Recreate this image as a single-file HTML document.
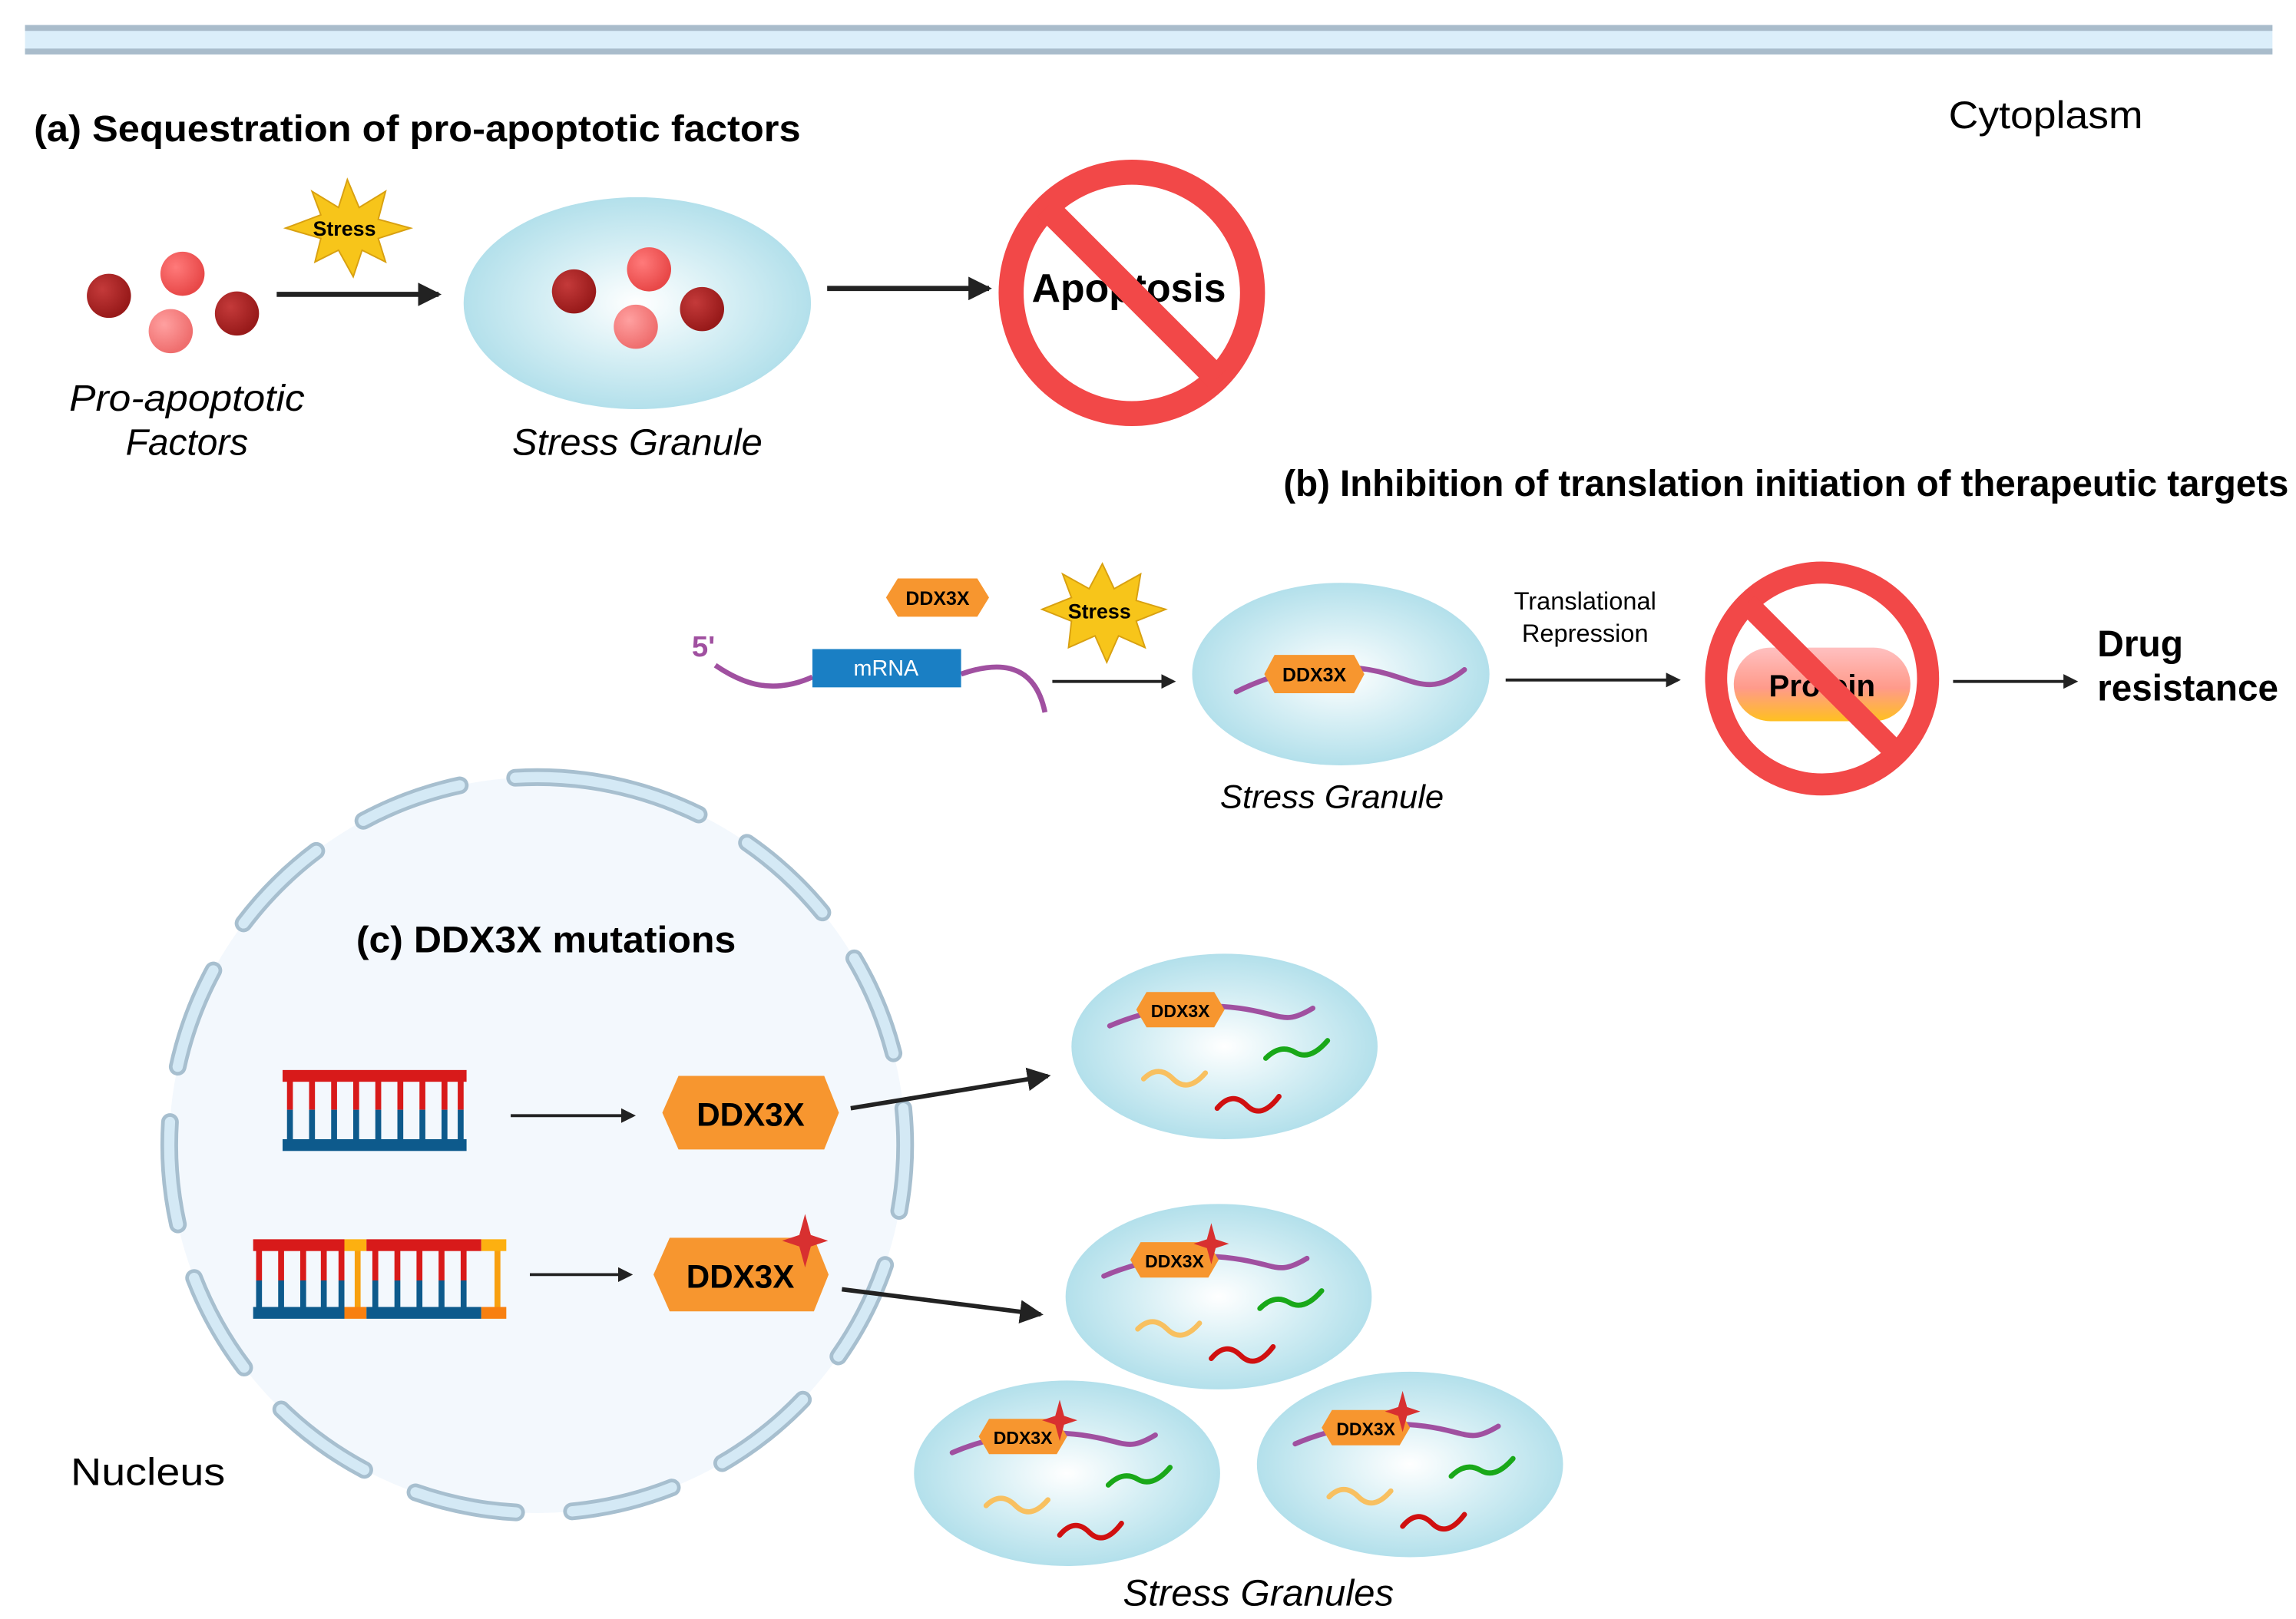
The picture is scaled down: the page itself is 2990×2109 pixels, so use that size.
<!DOCTYPE html>
<html><head><meta charset="utf-8">
<style>
html,body{margin:0;padding:0;background:#fff;}
svg{display:block;}
text{font-family:"Liberation Sans",sans-serif;}
</style></head>
<body>
<svg width="2990" height="2109" viewBox="0 0 1560 1100" preserveAspectRatio="none" xmlns="http://www.w3.org/2000/svg">
<defs>
<radialGradient id="sg" cx="50%" cy="50%" r="50%">
<stop offset="0" stop-color="#ffffff"/><stop offset="0.55" stop-color="#d4eef4"/><stop offset="1" stop-color="#b3e0eb"/>
</radialGradient>
<radialGradient id="dr" cx="35%" cy="35%" r="65%"><stop offset="0" stop-color="#c43a3a"/><stop offset="1" stop-color="#981a1a"/></radialGradient>
<radialGradient id="pr" cx="35%" cy="35%" r="65%"><stop offset="0" stop-color="#ff7a7a"/><stop offset="1" stop-color="#e84848"/></radialGradient>
<radialGradient id="lr" cx="35%" cy="35%" r="65%"><stop offset="0" stop-color="#ffa0a0"/><stop offset="1" stop-color="#ef6e6e"/></radialGradient>
<linearGradient id="pg" x1="0" y1="0" x2="0" y2="1"><stop offset="0" stop-color="#ffc0c0"/><stop offset="0.55" stop-color="#ff9a8a"/><stop offset="1" stop-color="#ffc020"/></linearGradient>
<marker id="ah" markerWidth="10" markerHeight="10" refX="8" refY="5" orient="auto" markerUnits="userSpaceOnUse" viewBox="0 0 10 10"><path d="M0,0 L10,5 L0,10 z" fill="#222"/></marker>
<marker id="ahb" markerWidth="16" markerHeight="16" refX="14" refY="8" orient="auto" markerUnits="userSpaceOnUse" viewBox="0 0 16 16"><path d="M0,0 L16,8 L0,16 z" fill="#222"/></marker>
<g id="gran">
<ellipse cx="0" cy="0" rx="104" ry="63" fill="url(#sg)"/>
<path d="M-78,-14 C-50,-26 -20,-30 10,-26 S40,-14 60,-26" fill="none" stroke="#a050a0" stroke-width="3.5" stroke-linecap="round"/>
<path d="M28,8 q10,-10 20,-4 t22,-8" fill="none" stroke="#19a819" stroke-width="3.5" stroke-linecap="round"/>
<path d="M-55,22 q10,-10 20,0 t22,-4" fill="none" stroke="#f8c060" stroke-width="3.5" stroke-linecap="round"/>
<path d="M-5,42 q10,-12 20,-2 t22,-6" fill="none" stroke="#d01010" stroke-width="3.5" stroke-linecap="round"/>
<polygon points="-60,-25 -53,-37 -7,-37 0,-25 -7,-13 -53,-13" fill="#f7962f"/>
</g>
<path id="spark" d="M0,-14 L3,-3 L12,0 L3,3 L0,14 L-3,3 L-12,0 L-3,-3 z" fill="#d83030"/>
</defs>

<rect x="17" y="17" width="1527" height="20" fill="#dbeefa"/>
<rect x="17" y="17" width="1527" height="4" fill="#a9bccb"/>
<rect x="17" y="33" width="1527" height="4" fill="#a9bccb"/>

<text x="23" y="96" font-size="25" font-weight="bold" textLength="521" lengthAdjust="spacingAndGlyphs">(a) Sequestration of pro-apoptotic factors</text>
<text x="1324" y="87" font-size="26" textLength="132" lengthAdjust="spacingAndGlyphs">Cytoplasm</text>

<circle cx="74" cy="201" r="15" fill="url(#dr)"/>
<circle cx="161" cy="213" r="15" fill="url(#dr)"/>
<circle cx="124" cy="186" r="15" fill="url(#pr)"/>
<circle cx="116" cy="225" r="15" fill="url(#lr)"/>
<polygon points="236,122 244,141 262,130 257,149 279,155 257,162 262,178 246,170 240,188 230,170 214,178 218,162 194,155 218,146 212,130 230,141" fill="#f7c51a" stroke="#d8a010" stroke-width="1"/>
<text x="234" y="160" font-size="14" font-weight="bold" text-anchor="middle">Stress</text>
<line x1="188" y1="200" x2="298" y2="200" stroke="#222" stroke-width="3.5" marker-end="url(#ahb)"/>
<ellipse cx="433" cy="206" rx="118" ry="72" fill="url(#sg)"/>
<circle cx="390" cy="198" r="15" fill="url(#dr)"/>
<circle cx="477" cy="210" r="15" fill="url(#dr)"/>
<circle cx="441" cy="183" r="15" fill="url(#pr)"/>
<circle cx="432" cy="222" r="15" fill="url(#lr)"/>
<text x="127" y="279" font-size="25" font-style="italic" text-anchor="middle" textLength="160" lengthAdjust="spacingAndGlyphs">Pro-apoptotic</text>
<text x="127" y="309" font-size="25" font-style="italic" text-anchor="middle">Factors</text>
<text x="433" y="309" font-size="25" font-style="italic" text-anchor="middle" textLength="170" lengthAdjust="spacingAndGlyphs">Stress Granule</text>
<line x1="562" y1="196" x2="672" y2="196" stroke="#222" stroke-width="3.5" marker-end="url(#ahb)"/>
<circle cx="769" cy="199" r="82" fill="none" stroke="#f24848" stroke-width="17"/>
<text x="767" y="205" font-size="27" font-weight="bold" text-anchor="middle">Apoptosis</text>
<line x1="711" y1="141" x2="827" y2="257" stroke="#f24848" stroke-width="17"/>

<text x="872" y="337" font-size="25" font-weight="bold" textLength="683" lengthAdjust="spacingAndGlyphs">(b) Inhibition of translation initiation of therapeutic targets</text>
<polygon points="602,406 610,393 664,393 672,406 664,419 610,419" fill="#f7962f"/>
<text x="637" y="411" font-size="13" font-weight="bold" text-anchor="middle">DDX3X</text>
<polygon points="749,383 757,400 775,390 772,408 792,414 772,422 778,440 760,432 752,450 744,432 726,440 728,422 708,414 728,406 722,390 740,400" fill="#f7c51a" stroke="#d8a010" stroke-width="1"/>
<text x="747" y="420" font-size="14" font-weight="bold" text-anchor="middle">Stress</text>
<text x="470" y="446" font-size="20" font-weight="bold" fill="#a050a0">5'</text>
<path d="M486,452 C505,465 525,472 552,460" fill="none" stroke="#a050a0" stroke-width="3.5"/>
<path d="M653,458 C690,445 705,460 710,484" fill="none" stroke="#a050a0" stroke-width="3.5"/>
<rect x="552" y="441" width="101" height="26" fill="#1a7fc4"/>
<text x="602" y="459" font-size="15" fill="#fff" text-anchor="middle">mRNA</text>
<line x1="715" y1="463" x2="797" y2="463" stroke="#222" stroke-width="2" marker-end="url(#ah)"/>
<ellipse cx="911" cy="458" rx="101" ry="62" fill="url(#sg)"/>
<path d="M840,470 C870,455 900,450 930,455 S970,475 995,455" fill="none" stroke="#a050a0" stroke-width="3.5" stroke-linecap="round"/>
<polygon points="859,458 866,445 920,445 927,458 920,471 866,471" fill="#f7962f"/>
<text x="893" y="463" font-size="13" font-weight="bold" text-anchor="middle">DDX3X</text>
<text x="905" y="549" font-size="22" font-style="italic" text-anchor="middle" textLength="152" lengthAdjust="spacingAndGlyphs">Stress Granule</text>
<text x="1077" y="414" font-size="17" text-anchor="middle">Translational</text>
<text x="1077" y="436" font-size="17" text-anchor="middle">Repression</text>
<line x1="1023" y1="462" x2="1140" y2="462" stroke="#222" stroke-width="2" marker-end="url(#ah)"/>
<rect x="1178" y="440" width="120" height="50" rx="25" fill="url(#pg)"/>
<text x="1238" y="473" font-size="21" font-weight="bold" text-anchor="middle">Protein</text>
<circle cx="1238" cy="461" r="72" fill="none" stroke="#f24848" stroke-width="15"/>
<line x1="1187" y1="410" x2="1289" y2="512" stroke="#f24848" stroke-width="15"/>
<line x1="1327" y1="463" x2="1410" y2="463" stroke="#222" stroke-width="2" marker-end="url(#ah)"/>
<text x="1425" y="446" font-size="25" font-weight="bold">Drug</text>
<text x="1425" y="476" font-size="25" font-weight="bold" textLength="123" lengthAdjust="spacingAndGlyphs">resistance</text>

<circle cx="365" cy="778" r="250" fill="#f3f8fd"/>
<circle cx="365" cy="778" r="250" fill="none" stroke="#a7bfcf" stroke-width="12" stroke-dasharray="70 38" stroke-linecap="round" transform="rotate(-80 365 778)"/>
<circle cx="365" cy="778" r="250" fill="none" stroke="#d4e9f5" stroke-width="7" stroke-dasharray="70 38" stroke-linecap="round" transform="rotate(-80 365 778)"/>
<text x="371" y="647" font-size="25" font-weight="bold" text-anchor="middle" textLength="258" lengthAdjust="spacingAndGlyphs">(c) DDX3X mutations</text>

<g stroke-width="4">
<line x1="197" y1="730" x2="197" y2="754" stroke="#d81a1a"/><line x1="197" y1="754" x2="197" y2="778" stroke="#0d5a8c"/>
<line x1="212" y1="730" x2="212" y2="754" stroke="#d81a1a"/><line x1="212" y1="754" x2="212" y2="778" stroke="#0d5a8c"/>
<line x1="227" y1="730" x2="227" y2="754" stroke="#d81a1a"/><line x1="227" y1="754" x2="227" y2="778" stroke="#0d5a8c"/>
<line x1="242" y1="730" x2="242" y2="754" stroke="#d81a1a"/><line x1="242" y1="754" x2="242" y2="778" stroke="#0d5a8c"/>
<line x1="257" y1="730" x2="257" y2="754" stroke="#d81a1a"/><line x1="257" y1="754" x2="257" y2="778" stroke="#0d5a8c"/>
<line x1="272" y1="730" x2="272" y2="754" stroke="#d81a1a"/><line x1="272" y1="754" x2="272" y2="778" stroke="#0d5a8c"/>
<line x1="287" y1="730" x2="287" y2="754" stroke="#d81a1a"/><line x1="287" y1="754" x2="287" y2="778" stroke="#0d5a8c"/>
<line x1="302" y1="730" x2="302" y2="754" stroke="#d81a1a"/><line x1="302" y1="754" x2="302" y2="778" stroke="#0d5a8c"/>
<line x1="313" y1="730" x2="313" y2="754" stroke="#d81a1a"/><line x1="313" y1="754" x2="313" y2="778" stroke="#0d5a8c"/>
</g>
<rect x="192" y="727" width="125" height="8" fill="#d81a1a"/>
<rect x="192" y="774" width="125" height="8" fill="#0d5a8c"/>
<line x1="347" y1="758" x2="430" y2="758" stroke="#222" stroke-width="2" marker-end="url(#ah)"/>
<polygon points="450,756 461,731 560,731 570,756 560,781 461,781" fill="#f7962f"/>
<text x="510" y="765" font-size="22" font-weight="bold" text-anchor="middle">DDX3X</text>
<line x1="578" y1="753" x2="712" y2="731" stroke="#222" stroke-width="3" marker-end="url(#ahb)"/>

<g stroke-width="4">
<line x1="176" y1="846" x2="176" y2="870" stroke="#d81a1a"/><line x1="176" y1="870" x2="176" y2="893" stroke="#0d5a8c"/>
<line x1="191" y1="846" x2="191" y2="870" stroke="#d81a1a"/><line x1="191" y1="870" x2="191" y2="893" stroke="#0d5a8c"/>
<line x1="206" y1="846" x2="206" y2="870" stroke="#d81a1a"/><line x1="206" y1="870" x2="206" y2="893" stroke="#0d5a8c"/>
<line x1="220" y1="846" x2="220" y2="870" stroke="#d81a1a"/><line x1="220" y1="870" x2="220" y2="893" stroke="#0d5a8c"/>
<line x1="232" y1="846" x2="232" y2="870" stroke="#d81a1a"/><line x1="232" y1="870" x2="232" y2="893" stroke="#0d5a8c"/>
<line x1="243" y1="846" x2="243" y2="893" stroke="#f8a010"/>
<line x1="255" y1="846" x2="255" y2="870" stroke="#d81a1a"/><line x1="255" y1="870" x2="255" y2="893" stroke="#0d5a8c"/>
<line x1="270" y1="846" x2="270" y2="870" stroke="#d81a1a"/><line x1="270" y1="870" x2="270" y2="893" stroke="#0d5a8c"/>
<line x1="285" y1="846" x2="285" y2="870" stroke="#d81a1a"/><line x1="285" y1="870" x2="285" y2="893" stroke="#0d5a8c"/>
<line x1="300" y1="846" x2="300" y2="870" stroke="#d81a1a"/><line x1="300" y1="870" x2="300" y2="893" stroke="#0d5a8c"/>
<line x1="315" y1="846" x2="315" y2="870" stroke="#d81a1a"/><line x1="315" y1="870" x2="315" y2="893" stroke="#0d5a8c"/>
<line x1="338" y1="846" x2="338" y2="893" stroke="#f8a010"/>
</g>
<rect x="172" y="842" width="62" height="8" fill="#d81a1a"/>
<rect x="234" y="842" width="15" height="8" fill="#fdb010"/>
<rect x="249" y="842" width="78" height="8" fill="#d81a1a"/>
<rect x="327" y="842" width="17" height="8" fill="#fdb010"/>
<rect x="172" y="888" width="62" height="8" fill="#0d5a8c"/>
<rect x="234" y="888" width="15" height="8" fill="#f88010"/>
<rect x="249" y="888" width="78" height="8" fill="#0d5a8c"/>
<rect x="327" y="888" width="17" height="8" fill="#f88010"/>
<line x1="360" y1="866" x2="428" y2="866" stroke="#222" stroke-width="2" marker-end="url(#ah)"/>
<polygon points="444,866 455,841 553,841 563,866 553,891 455,891" fill="#f7962f"/>
<text x="503" y="875" font-size="22" font-weight="bold" text-anchor="middle">DDX3X</text>
<use href="#spark" transform="translate(547,843) scale(1.3)"/>
<line x1="572" y1="876" x2="707" y2="893" stroke="#222" stroke-width="3" marker-end="url(#ahb)"/>

<use href="#gran" transform="translate(832,711)"/>
<text x="802" y="691" font-size="12" font-weight="bold" text-anchor="middle">DDX3X</text>
<use href="#gran" transform="translate(828,881)"/>
<text x="798" y="861" font-size="12" font-weight="bold" text-anchor="middle">DDX3X</text>
<use href="#spark" transform="translate(823,845)"/>
<use href="#gran" transform="translate(725,1001)"/>
<text x="695" y="981" font-size="12" font-weight="bold" text-anchor="middle">DDX3X</text>
<use href="#spark" transform="translate(720,965)"/>
<use href="#gran" transform="translate(958,995)"/>
<text x="928" y="975" font-size="12" font-weight="bold" text-anchor="middle">DDX3X</text>
<use href="#spark" transform="translate(953,959)"/>

<text x="48" y="1009" font-size="26" textLength="105" lengthAdjust="spacingAndGlyphs">Nucleus</text>
<text x="855" y="1091" font-size="25" font-style="italic" text-anchor="middle" textLength="184" lengthAdjust="spacingAndGlyphs">Stress Granules</text>
</svg>
</body></html>
